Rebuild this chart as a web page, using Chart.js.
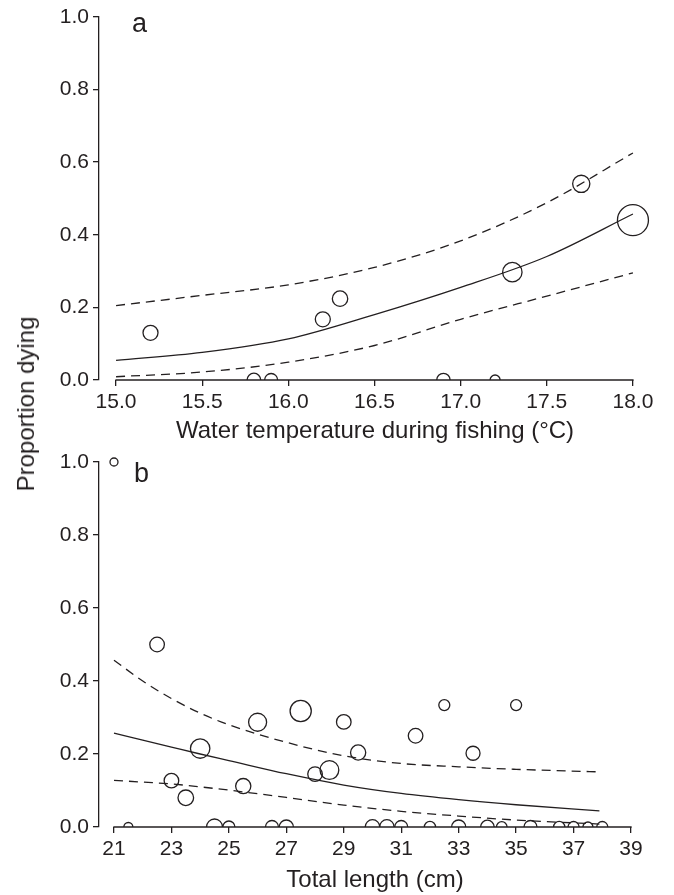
<!DOCTYPE html>
<html>
<head>
<meta charset="utf-8">
<script src="https://cdn.jsdelivr.net/npm/chart.js@4.4.1/dist/chart.umd.min.js"></script>
<style>
html,body{margin:0;padding:0;background:#fff;}
#wrap{position:relative;width:674px;height:895px;overflow:hidden;font-family:"Liberation Sans",Arial,Helvetica,sans-serif;color:#231f20;}
canvas{position:absolute;left:0;}
.t{position:absolute;white-space:nowrap;line-height:1;}
</style>
</head>
<body>
<div id="wrap">
  <canvas id="ca" width="674" height="450" style="top:0px;width:674px;height:450px"></canvas>
  <canvas id="cb" width="674" height="455" style="top:440px;width:674px;height:455px"></canvas>
  <div class="t" id="lblA" style="left:132px;top:10px;font-size:27px;">a</div>
  <div class="t" id="lblB" style="left:134px;top:460px;font-size:27px;">b</div>
  <div class="t" id="xtA" style="left:375px;top:430px;font-size:24px;transform:translate(-50%,-50%);">Water temperature during fishing (°C)</div>
  <div class="t" id="xtB" style="left:375px;top:879px;font-size:24px;transform:translate(-50%,-50%);">Total length (cm)</div>
  <div class="t" id="yt" style="left:26px;top:404px;font-size:24px;transform:translate(-50%,-50%) rotate(-90deg);">Proportion dying</div>
</div>
<script>
// ---------- DATA ----------
// Panel a: water temperature (°C) vs proportion dying
const tempA  = [15.2, 15.8, 15.9, 16.2, 16.3, 16.9, 17.2, 17.3, 17.7, 18.0];
const propA  = [0.13, 0, 0, 0.167, 0.224, 0, 0, 0.297, 0.54, 0.44];
const bubbleA = [7.5, 6.8, 6.5, 7.5, 7.7, 6.7, 5, 9.7, 8.6, 15.5];   // symbol size (sample weight)
const curveTempA = [15.0, 15.5, 16.0, 16.5, 17.0, 17.5, 18.0];
const fitA   = [0.054, 0.076, 0.113, 0.18, 0.255, 0.34, 0.457];
const upperA = [0.205, 0.233, 0.262, 0.31, 0.383, 0.488, 0.625];
const lowerA = [0.009, 0.022, 0.049, 0.095, 0.167, 0.231, 0.295];
const tickTempA = [15.0, 15.5, 16.0, 16.5, 17.0, 17.5, 18.0];

// Panel b: total length (cm) vs proportion dying
const lenB  = [21, 21.5, 22.5, 23, 23.5, 24, 24.5, 25, 25.5, 26, 26.5, 27, 27.5, 28, 28.5, 29, 29.5, 30, 30.5, 31, 31.5, 32, 32.5, 33, 33.5, 34, 34.5, 35, 35.5, 36.5, 37, 37.5, 38];
const propB = [1, 0, 0.5, 0.127, 0.08, 0.215, 0, 0, 0.112, 0.287, 0, 0, 0.318, 0.145, 0.156, 0.288, 0.204, 0, 0, 0, 0.25, 0, 0.334, 0, 0.202, 0, 0, 0.334, 0, 0, 0, 0, 0];
const bubbleB = [4, 4.5, 7.3, 7.3, 7.8, 9.7, 8, 6, 7.6, 9, 6.5, 7, 10.6, 7.3, 9.4, 7.3, 7.6, 7.3, 7.3, 6.5, 7.3, 5.6, 5.5, 7, 7, 6.8, 5.3, 5.5, 6.5, 5.6, 5.5, 5, 5.5];
const curveLenB = [21, 22, 23, 24, 25, 27, 29, 31, 33, 35, 37.9];
const fitB   = [0.257, 0.238, 0.219, 0.2, 0.182, 0.146, 0.115, 0.092, 0.075, 0.061, 0.044];
const upperB = [0.457, 0.40, 0.352, 0.312, 0.28, 0.232, 0.195, 0.174, 0.165, 0.158, 0.151];
const lowerB = [0.128, 0.123, 0.118, 0.11, 0.101, 0.081, 0.06, 0.043, 0.030, 0.019, 0.008];
const tickLenB = [21, 23, 25, 27, 29, 31, 33, 35, 37, 39];

const tickProp = [0.0, 0.2, 0.4, 0.6, 0.8, 1.0];

// ---------- STYLE ----------
const INK = '#231f20';
const FONT = '"Liberation Sans", Arial, Helvetica, sans-serif';
const DASH = [9, 6];
const TICK_FONT = 21;

const xAxisLine = {
  id: 'xAxisLine',
  afterDatasetsDraw(chart) {
    const xs = chart.scales.x, ys = chart.scales.y, ctx = chart.ctx;
    const t = xs.ticks;
    const y = ys.getPixelForValue(0);
    ctx.save();
    ctx.strokeStyle = INK;
    ctx.lineWidth = 1.3;
    ctx.beginPath();
    ctx.moveTo(xs.getPixelForValue(t[0].value) - 0.65, y);
    ctx.lineTo(xs.getPixelForValue(t[t.length - 1].value) + 0.65, y);
    ctx.stroke();
    ctx.restore();
  }
};

function lineDs(xs, ys, dash) {
  return {
    type: 'line',
    data: xs.map((x, i) => ({x: x, y: ys[i]})),
    borderColor: INK,
    borderWidth: 1.3,
    borderDash: dash,
    pointRadius: 0,
    fill: false,
    cubicInterpolationMode: 'monotone'
  };
}

function makeChart(id, cfg) {
  const span = cfg.ticksX[cfg.ticksX.length - 1] - cfg.ticksX[0];
  const pad = span * cfg.gapFrac;
  return new Chart(document.getElementById(id), {
    type: 'bubble',
    data: {
      datasets: [
        lineDs(cfg.cx, cfg.upper, DASH),
        lineDs(cfg.cx, cfg.lower, DASH),
        lineDs(cfg.cx, cfg.fit, []),
        {
          type: 'bubble',
          data: cfg.px.map((x, i) => ({x: x, y: cfg.py[i], r: cfg.pr[i]})),
          borderColor: INK,
          borderWidth: 1.3,
          backgroundColor: 'rgba(0,0,0,0)',
          clip: {left: false, top: false, right: false, bottom: 0}
        }
      ]
    },
    options: {
      responsive: false,
      devicePixelRatio: 1,
      animation: false,
      events: [],
      layout: {padding: {top: cfg.padTop, right: cfg.padRight, bottom: 0, left: 0}},
      plugins: {legend: {display: false}, tooltip: {enabled: false}},
      scales: {
        x: {
          type: 'linear',
          min: cfg.ticksX[0] - pad,
          max: cfg.ticksX[cfg.ticksX.length - 1] + pad,
          afterBuildTicks: s => { s.ticks = cfg.ticksX.map(v => ({value: v})); },
          afterFit: s => { s.height = cfg.xHeight; },
          ticks: {
            autoSkip: false, maxRotation: 0,
            callback: cfg.fmtX,
            font: {family: FONT, size: TICK_FONT},
            color: INK,
            padding: 4
          },
          grid: {display: true, drawOnChartArea: false, drawTicks: true, tickLength: 6, color: INK, lineWidth: 1.3},
          border: {display: false}
        },
        y: {
          type: 'linear',
          min: 0, max: 1,
          afterBuildTicks: s => { s.ticks = tickProp.map(v => ({value: v})); },
          afterFit: s => { s.width = 99; },
          ticks: {
            callback: v => Number(v).toFixed(1),
            font: {family: FONT, size: TICK_FONT},
            color: INK,
            padding: 4
          },
          grid: {display: true, drawOnChartArea: false, drawTicks: true, tickLength: 6, color: INK, lineWidth: 1.3},
          border: {display: true, color: INK, width: 1.3}
        }
      }
    },
    plugins: [xAxisLine]
  });
}

makeChart('ca', {
  cx: curveTempA, fit: fitA, upper: upperA, lower: lowerA,
  px: tempA, py: propA, pr: bubbleA,
  ticksX: tickTempA, gapFrac: 0.033,
  fmtX: v => Number(v).toFixed(1),
  padTop: 15, padRight: 24, xHeight: 70
});

makeChart('cb', {
  cx: curveLenB, fit: fitB, upper: upperB, lower: lowerB,
  px: lenB, py: propB, pr: bubbleB,
  ticksX: tickLenB, gapFrac: 0.029,
  fmtX: v => String(Math.round(v)),
  padTop: 22, padRight: 28, xHeight: 68
});
</script>
</body>
</html>
